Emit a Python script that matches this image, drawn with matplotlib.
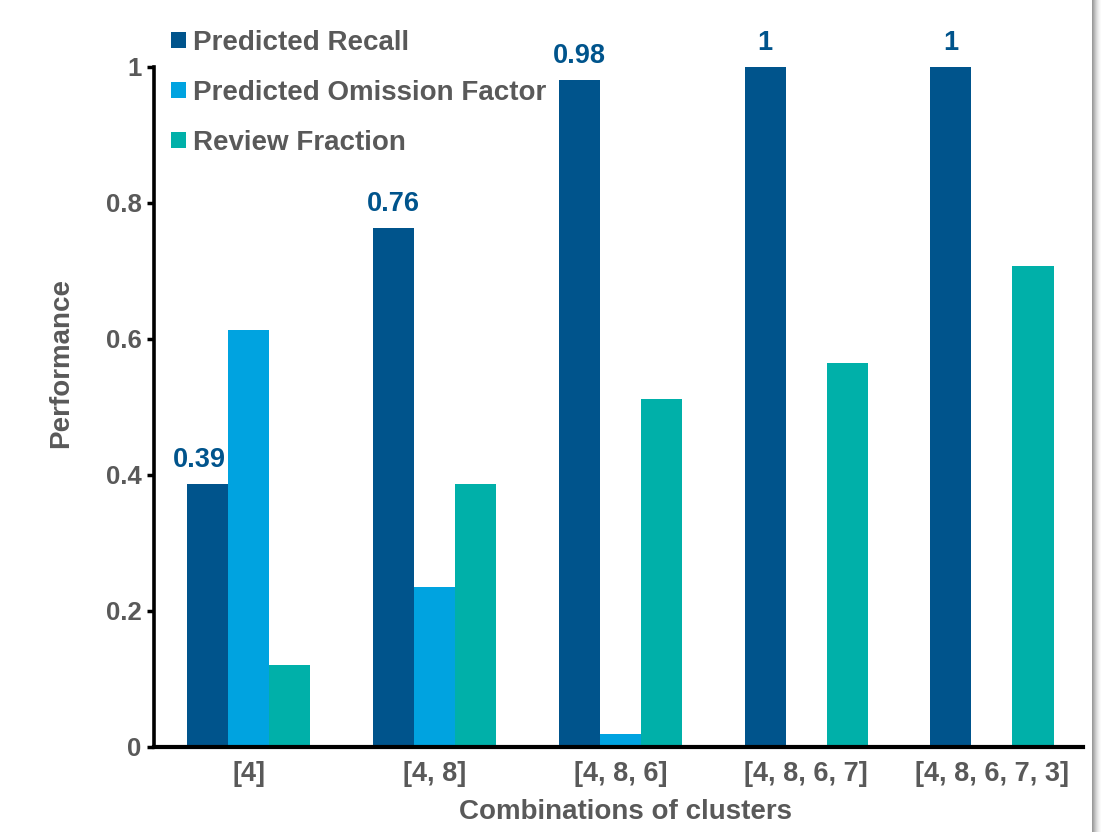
import numpy as np
import matplotlib
matplotlib.use("Agg")
import matplotlib.pyplot as plt
from matplotlib.patches import Patch, Rectangle

# --- data -------------------------------------------------------------
categories = ["[4]", "[4, 8]", "[4, 8, 6]", "[4, 8, 6, 7]", "[4, 8, 6, 7, 3]"]
predicted_recall = [0.387, 0.763, 0.981, 1.0, 1.0]
predicted_omission = [0.613, 0.235, 0.019, 0.0, 0.0]
review_fraction = [0.121, 0.387, 0.512, 0.565, 0.707]
recall_labels = ["0.39", "0.76", "0.98", "1", "1"]
series_names = ["Predicted Recall", "Predicted Omission Factor", "Review Fraction"]
y_ticks = [0, 0.2, 0.4, 0.6, 0.8, 1.0]
y_tick_labels = ["0", "0.2", "0.4", "0.6", "0.8", "1"]

# --- style ------------------------------------------------------------
C_RECALL = "#00548C"
C_OMISSION = "#00A3E0"
C_REVIEW = "#00B0A9"
C_TEXT = "#595959"
plt.rcParams["font.family"] = ["Liberation Sans", "DejaVu Sans"]
plt.rcParams["font.weight"] = "bold"

W, H = 1116, 832
fig = plt.figure(figsize=(W / 100, H / 100), dpi=100)
fig.patch.set_facecolor("white")

ax_l, ax_r, ax_b, ax_t = 154, 1083, 747, 67
ax = fig.add_axes([ax_l / W, (H - ax_b) / H, (ax_r - ax_l) / W, (ax_b - ax_t) / H])

x = np.arange(len(categories))
bw = 0.221
ax.bar(x - bw, predicted_recall, bw, color=C_RECALL, label=series_names[0])
ax.bar(x, predicted_omission, bw, color=C_OMISSION, label=series_names[1])
ax.bar(x + bw, review_fraction, bw, color=C_REVIEW, label=series_names[2])

# value labels above the recall bars
label_nudge = [-6, 0, 0, 0, 0]
for xi, v, txt, dx in zip(x, predicted_recall, recall_labels, label_nudge):
    ax.annotate(txt, (xi - bw, v), xytext=(dx, 8), textcoords="offset points",
                ha="center", va="bottom", fontsize=19.5, fontweight="bold",
                color=C_RECALL)

ax.set_xlim(-0.51, 4.49)
ax.set_ylim(0, 1.0)
ax.set_xticks(x)
ax.set_xticklabels(categories, fontsize=19.5, fontweight="bold", color=C_TEXT)
ax.set_yticks(y_ticks)
ax.set_yticklabels(y_tick_labels, fontsize=18.5, fontweight="bold", color=C_TEXT)
ax.tick_params(axis="x", length=0, pad=10)
ax.tick_params(axis="y", length=5, width=2.5, color="black", pad=4, direction="out")

for s in ("top", "right"):
    ax.spines[s].set_visible(False)
ax.spines["left"].set_linewidth(2.6)
ax.spines["bottom"].set_linewidth(3.0)
ax.spines["left"].set_color("black")
ax.spines["bottom"].set_color("black")

ax.set_xlabel("Combinations of clusters", fontsize=20, fontweight="bold", color=C_TEXT)
ax.xaxis.set_label_coords(0.507, -0.0765)
ax.set_ylabel("Performance", fontsize=20, fontweight="bold", color=C_TEXT)
ax.yaxis.set_label_coords(-0.086, 0.565)

# legend in the upper left, above the plot area
handles = [Patch(facecolor=c, edgecolor="none") for c in (C_RECALL, C_OMISSION, C_REVIEW)]
leg = fig.legend(handles, series_names, loc="upper left",
                 bbox_to_anchor=(171 / W, 1 - 30 / H), frameon=False,
                 prop={"size": 20, "weight": "bold"}, labelcolor=C_TEXT,
                 handlelength=0.54, handleheight=0.54, handletextpad=0.25,
                 labelspacing=0.86, borderpad=0, borderaxespad=0)

# soft shadow along the right edge of the page
shades = ["#9a9a9a", "#a8a8a8", "#b8b8b8", "#c8c8c8", "#d6d6d6",
          "#e2e2e2", "#ececec", "#f4f4f4", "#fafafa"]
for i, c in enumerate(shades):
    fig.patches.append(Rectangle(((1092 + i) / W, 0), 1 / W, 1,
                                 transform=fig.transFigure, facecolor=c,
                                 edgecolor="none", zorder=0))

fig.savefig("out.png", dpi=100, facecolor="white")
